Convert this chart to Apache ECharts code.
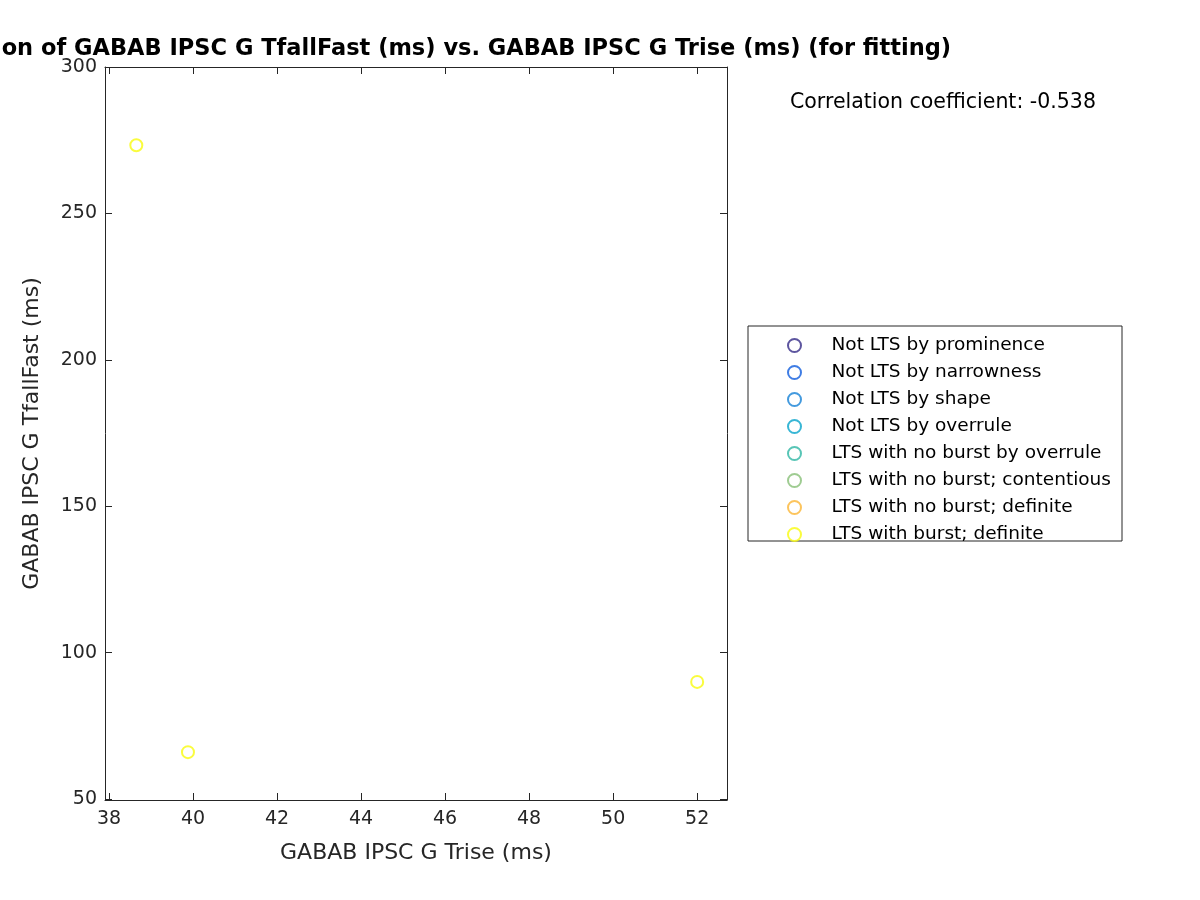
<!DOCTYPE html>
<html><head><meta charset="utf-8">
<script src="https://cdn.jsdelivr.net/npm/echarts@6/dist/echarts.min.js"></script>
<style>html,body{margin:0;background:#fff}#c{width:1200px;height:900px}</style>
</head><body><div id="c"></div>
<script>
const seriesNames = ["Not LTS by prominence","Not LTS by narrowness","Not LTS by shape","Not LTS by overrule","LTS with no burst by overrule","LTS with no burst; contentious","LTS with no burst; definite","LTS with burst; definite"];
const seriesColors = ["#352a87","#0f5cdd","#1481d6","#06a4ca","#2eb7a4","#87bf77","#fbb535","#f9fb0e"];
const burstX = [38.65, 39.88, 52.0];
const burstY = [273.3, 66.0, 90.0];
const xTicks = [38,40,42,44,46,48,50,52];
const yTicks = [50,100,150,200,250,300];

const chart = echarts.init(document.getElementById('c'));
const font = 'DejaVu Sans';
const series = seriesNames.map((n,i)=>({
  name:n, type:'scatter', symbol:'emptyCircle', symbolSize:12,
  itemStyle:{color:seriesColors[i], borderWidth:2.2},
  data: i===7 ? burstX.map((x,j)=>[x,burstY[j]]) : []
}));
const line = {lineStyle:{color:'#262626'}};
const tick = v=>({inside:true,length:7,customValues:v,lineStyle:{color:'#262626'}});
chart.setOption({
  animation:false,
  textStyle:{fontFamily:font},
  title:{text:'Correlation of GABAB IPSC G TfallFast (ms) vs. GABAB IPSC G Trise (ms) (for fitting)',
    left:416, top:33, textAlign:'center',
    textStyle:{fontSize:22.5,fontWeight:'bold',color:'#000',fontFamily:font}},
  graphic:[
    {type:'text',left:790,top:92,style:{text:'Correlation coefficient: -0.538',fontSize:20.5,fill:'#000',fontFamily:font}},
    {type:'rect',shape:{x:748,y:326,width:374,height:215},style:{fill:'none',stroke:'#262626',lineWidth:1}}
  ],
  legend:{orient:'vertical',left:782,top:331,itemGap:8,itemWidth:20,itemHeight:13,
    textStyle:{fontSize:18.5,color:'#000',fontFamily:font,padding:[0,0,0,22]},
    data:seriesNames.map(n=>({name:n,icon:'emptyCircle'}))},
  grid:{left:105,right:473,top:67,bottom:100},
  xAxis:[
    {type:'value',min:37.905,max:52.71,name:'GABAB IPSC G Trise (ms)',nameLocation:'middle',nameGap:42,
      nameTextStyle:{fontSize:22,color:'#262626'},
      axisLabel:{fontSize:19,color:'#262626',customValues:xTicks,showMinLabel:true,showMaxLabel:true,margin:10},
      axisTick:tick(xTicks),axisLine:line,splitLine:{show:false}},
    {type:'value',position:'top',min:37.905,max:52.71,axisLabel:{show:false},axisLine:line,splitLine:{show:false},
      axisTick:tick(xTicks)}
  ],
  yAxis:[
    {type:'value',min:49.66,max:300,name:'GABAB IPSC G TfallFast (ms)',nameLocation:'middle',nameGap:62,
      nameTextStyle:{fontSize:22,color:'#262626'},
      axisLabel:{fontSize:19,color:'#262626',customValues:yTicks,showMinLabel:true,showMaxLabel:true},
      axisLine:line,splitLine:{show:false},axisTick:tick(yTicks)},
    {type:'value',position:'right',min:49.66,max:300,axisLabel:{show:false},axisLine:line,splitLine:{show:false},
      axisTick:tick(yTicks)}
  ],
  series
});
</script></body></html>
